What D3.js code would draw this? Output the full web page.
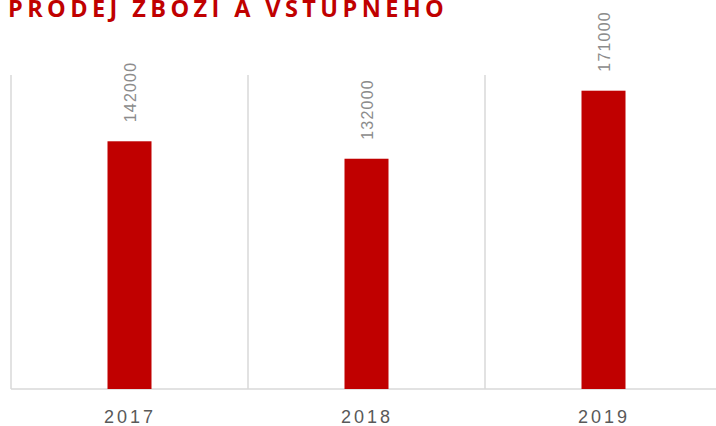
<!DOCTYPE html>
<html>
<head>
<meta charset="utf-8">
<script src="https://cdn.jsdelivr.net/npm/d3@7"></script>
<style>
  body { margin: 0; background: #fff; }
  svg { display: block; }
</style>
</head>
<body>
<script>
// data
const years = ['2017', '2018', '2019'];
const sales = [142000, 132000, 171000];
const titleText = 'PRODEJ ZBOŽÍ A VSTUPNÉHO';

const width = 716, height = 426;
const margin = {top: 75, left: 11, bottom: 37};
const bandW = 237;

const svg = d3.select('body').append('svg')
    .attr('width', width)
    .attr('height', height);

const xScale = d3.scaleBand()
    .domain(years)
    .range([margin.left, margin.left + bandW * years.length])
    .paddingInner(0)
    .paddingOuter(0);

const yScale = d3.scaleLinear()
    .domain([0, 180000])
    .range([height - margin.bottom, margin.top]);

const baseY = yScale(0);

// vertical separators between categories
svg.append('g').selectAll('line')
    .data(years)
    .join('line')
    .attr('x1', d => xScale(d))
    .attr('x2', d => xScale(d))
    .attr('y1', yScale(180000))
    .attr('y2', baseY)
    .attr('stroke', '#d9d9d9')
    .attr('stroke-width', 1.5);

// baseline
svg.append('line')
    .attr('x1', margin.left)
    .attr('x2', width)
    .attr('y1', baseY)
    .attr('y2', baseY)
    .attr('stroke', '#d9d9d9')
    .attr('stroke-width', 1.5);

const barW = 44;
const data = years.map((y, i) => ({year: y, value: sales[i]}));

svg.append('g').selectAll('rect')
    .data(data)
    .join('rect')
    .attr('x', d => xScale(d.year) + xScale.bandwidth() / 2 - barW / 2)
    .attr('y', d => yScale(d.value))
    .attr('width', barW)
    .attr('height', d => baseY - yScale(d.value))
    .attr('fill', '#c00000');

// value labels, rotated
svg.append('g').selectAll('text')
    .data(data)
    .join('text')
    .attr('transform', d => `translate(${xScale(d.year) + xScale.bandwidth() / 2 + 6},${yScale(d.value) - 19}) rotate(-90)`)
    .attr('text-anchor', 'start')
    .attr('font-family', 'Liberation Sans, Arial, sans-serif')
    .attr('font-size', 16)
    .attr('letter-spacing', 1.2)
    .attr('fill', '#8c8c8c')
    .text(d => d.value);

// category labels
svg.append('g').selectAll('text')
    .data(years)
    .join('text')
    .attr('x', d => xScale(d) + xScale.bandwidth() / 2 + 0.5)
    .attr('y', 423)
    .attr('text-anchor', 'middle')
    .attr('font-family', 'Liberation Sans, Arial, sans-serif')
    .attr('font-size', 18)
    .attr('letter-spacing', 3)
    .attr('fill', '#595959')
    .text(d => d);

// title (top is cut off in the original)
svg.append('text')
    .attr('x', 8)
    .attr('y', 17)
    .attr('font-family', 'Open Sans, sans-serif')
    .attr('font-weight', 'bold')
    .attr('font-size', 23.5)
    .attr('letter-spacing', 4.4)
    .attr('fill', '#c00000')
    .text(titleText);
</script>
</body>
</html>
